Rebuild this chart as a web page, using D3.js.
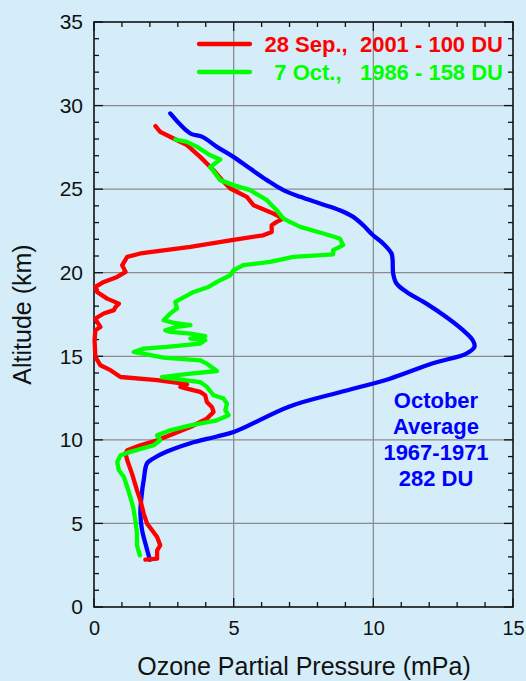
<!DOCTYPE html>
<html>
<head>
<meta charset="utf-8">
<script src="https://cdn.jsdelivr.net/npm/d3@7"></script>
<style>
  body { margin: 0; background: #d4edf9; }
  svg { display: block; font-family: "Liberation Sans", Arial, sans-serif; }
</style>
</head>
<body>
<div id="container"></div>
<script>
const w = 526;
const h = 681;
const margin = {top: 22, right: 13, bottom: 74, left: 94};

// ozone profiles: [partial pressure mPa, altitude km]
const octAverage = [
  [2.0, 2.83], [1.84, 3.8], [1.72, 4.6], [1.66, 5.6], [1.70, 6.6], [1.78, 7.6],
  [1.9, 8.6], [2.14, 8.9], [2.61, 9.3], [3.45, 9.8], [4.4, 10.2], [5.05, 10.5],
  [7.0, 12.0], [8.8, 12.85], [10.59, 13.66], [12.13, 14.58], [13.33, 15.16],
  [13.62, 15.56], [13.56, 15.96], [13.21, 16.56], [12.61, 17.35], [11.9, 18.15],
  [11.19, 18.85], [10.83, 19.35], [10.71, 19.95], [10.69, 20.75], [10.65, 21.15],
  [10.35, 21.75], [9.99, 22.24], [9.64, 22.84], [9.28, 23.34], [8.8, 23.74],
  [8.09, 24.14], [7.38, 24.54], [6.78, 24.94], [6.19, 25.54], [5.59, 26.23],
  [4.99, 26.93], [4.4, 27.53], [3.88, 28.13], [3.45, 28.33], [2.73, 29.53]
];

const sep2001 = [
  [1.84, 2.83], [2.26, 2.89], [2.26, 3.39], [2.37, 3.69], [2.26, 4.19], [2.08, 4.59],
  [1.9, 4.99], [1.78, 5.59], [1.66, 6.39], [1.54, 6.98], [1.36, 7.98], [1.19, 8.78],
  [1.13, 9.18], [1.19, 9.38], [1.66, 9.68], [2.26, 9.98], [2.85, 10.37], [3.45, 10.77],
  [4.04, 11.27], [4.28, 11.67], [4.22, 11.97], [4.04, 12.27], [3.98, 12.67], [3.8, 12.87],
  [3.33, 13.07], [3.09, 13.17], [3.33, 13.33], [2.26, 13.57], [0.95, 13.76], [0.59, 14.17],
  [0.23, 14.46], [0.05, 14.96], [0.02, 15.96], [0.05, 16.56], [0.23, 16.76], [0.11, 17.06],
  [0.05, 17.26], [0.35, 17.56], [0.71, 17.76], [0.77, 17.95], [0.89, 18.15], [0.47, 18.45],
  [0.11, 18.85], [0.05, 19.15], [0.35, 19.45], [0.83, 19.75], [1.13, 20.05], [1.01, 20.45],
  [1.19, 20.95], [1.66, 21.15], [3.45, 21.54], [4.88, 21.94], [6.06, 22.24], [6.36, 22.44],
  [6.36, 22.84], [6.54, 23.04], [6.78, 23.24], [6.42, 23.54], [5.71, 24.04], [5.47, 24.54],
  [4.88, 25.04], [4.64, 25.44], [4.28, 26.13], [3.8, 26.93], [3.33, 27.63], [2.85, 28.03],
  [2.37, 28.43], [2.2, 28.77]
];

const oct1986 = [
  [1.64, 3.09], [1.54, 3.69], [1.54, 4.39], [1.48, 5.19], [1.4, 5.98], [1.3, 6.58],
  [1.19, 7.18], [1.07, 7.78], [0.89, 8.18], [0.83, 8.68], [0.95, 9.08], [1.3, 9.28],
  [2.14, 9.68], [2.37, 9.98], [2.26, 10.27], [2.73, 10.57], [3.45, 10.87], [4.4, 11.17],
  [4.82, 11.47], [4.7, 11.77], [4.76, 12.17], [4.64, 12.47], [4.28, 12.67], [4.04, 13.17],
  [3.8, 13.46], [2.43, 13.76], [3.45, 13.96], [4.4, 14.12], [4.04, 14.56], [3.8, 14.76],
  [2.49, 14.92], [1.42, 15.26], [1.78, 15.46], [2.61, 15.56], [3.8, 15.76], [3.98, 15.96],
  [3.45, 16.06], [3.98, 16.2], [3.45, 16.36], [2.73, 16.46], [2.55, 16.56], [2.97, 16.76],
  [3.45, 16.86], [2.85, 17.0], [2.49, 17.16], [2.73, 17.56], [2.97, 17.86], [2.91, 18.25],
  [3.57, 18.85], [4.1, 19.15], [4.4, 19.45], [4.88, 19.85], [4.99, 20.15], [5.35, 20.45],
  [6.3, 20.65], [7.14, 20.95], [8.56, 21.1], [8.56, 21.35], [8.92, 21.65], [8.8, 22.05],
  [8.21, 22.35], [7.38, 22.74], [6.78, 23.24], [6.54, 23.74], [6.19, 24.34], [5.59, 24.94],
  [4.99, 25.24], [4.52, 25.54], [4.16, 26.33], [4.52, 26.77], [4.16, 27.03], [3.69, 27.53],
  [3.33, 27.83], [2.91, 27.97]
];

const xTicks = [0, 5, 10, 15];
const yTicks = [0, 5, 10, 15, 20, 25, 30, 35];
const legendLabels = ["28 Sep.,  2001 - 100 DU", "7 Oct.,   1986 - 158 DU"];
const noteLines = ["October", "Average", "1967-1971", "282 DU"];

const svg = d3.select("#container").append("svg")
              .attr("width", w).attr("height", h);

const pw = w - margin.left - margin.right;
const ph = h - margin.top - margin.bottom;
const g = svg.append("g").attr("transform", "translate(" + margin.left + "," + margin.top + ")");

const scaleX = d3.scaleLinear().domain([0, 15]).range([0, pw]);
const scaleY = d3.scaleLinear().domain([0, 35]).range([ph, 0]);

// grid
g.selectAll(".gx").data([5, 10]).enter().append("line")
  .attr("x1", d => scaleX(d)).attr("x2", d => scaleX(d))
  .attr("y1", 0).attr("y2", ph)
  .attr("stroke", "#8c8c8c").attr("stroke-width", 1.3);
g.selectAll(".gy").data([5, 10, 15, 20, 25, 30]).enter().append("line")
  .attr("y1", d => scaleY(d)).attr("y2", d => scaleY(d))
  .attr("x1", 0).attr("x2", pw)
  .attr("stroke", "#8c8c8c").attr("stroke-width", 1.3);

// minor ticks on all four sides, pointing inward
const minorX = d3.range(0, 16);
const minorY = d3.range(0, 36);
function drawTicks(cls, data, maker) {
  g.selectAll("." + cls).data(data).enter().append("line")
    .attr("class", cls).each(maker)
    .attr("stroke", "#111").attr("stroke-width", 1.3);
}
drawTicks("tb", minorX, function(d) {
  const len = d % 5 === 0 ? 9 : 5;
  d3.select(this).attr("x1", scaleX(d)).attr("x2", scaleX(d)).attr("y1", ph).attr("y2", ph - len);
});
drawTicks("tt", minorX, function(d) {
  const len = d % 5 === 0 ? 9 : 5;
  d3.select(this).attr("x1", scaleX(d)).attr("x2", scaleX(d)).attr("y1", 0).attr("y2", len);
});
drawTicks("tl", minorY, function(d) {
  const len = d % 5 === 0 ? 9 : 5;
  d3.select(this).attr("y1", scaleY(d)).attr("y2", scaleY(d)).attr("x1", 0).attr("x2", len);
});
drawTicks("tr", minorY, function(d) {
  const len = d % 5 === 0 ? 9 : 5;
  d3.select(this).attr("y1", scaleY(d)).attr("y2", scaleY(d)).attr("x1", pw).attr("x2", pw - len);
});

// frame
g.append("rect").attr("width", pw).attr("height", ph)
  .attr("fill", "none").attr("stroke", "#111").attr("stroke-width", 1.6);

// tick labels
const xAxis = d3.axisBottom(scaleX).tickValues(xTicks).tickSize(0).tickPadding(14);
g.append("g").attr("transform", "translate(0," + ph + ")").call(xAxis)
  .call(s => s.select(".domain").remove())
  .selectAll("text").attr("font-size", 20).attr("fill", "#111")
  .attr("font-family", "Liberation Sans, Arial, sans-serif");
const yAxis = d3.axisLeft(scaleY).tickValues(yTicks).tickSize(0).tickPadding(11);
g.append("g").call(yAxis)
  .call(s => s.select(".domain").remove())
  .selectAll("text").attr("font-size", 21).attr("fill", "#111")
  .attr("font-family", "Liberation Sans, Arial, sans-serif");

// axis titles
svg.append("text").attr("x", 304).attr("y", 675)
  .attr("text-anchor", "middle").attr("font-size", 25).attr("fill", "#111")
  .text("Ozone Partial Pressure (mPa)");
svg.append("text").attr("transform", "translate(31," + (margin.top + ph / 2) + ") rotate(-90)")
  .attr("text-anchor", "middle").attr("font-size", 25).attr("fill", "#111")
  .text("Altitude (km)");

// profiles
const line = d3.line().x(d => scaleX(d[0])).y(d => scaleY(d[1]));
const smooth = d3.line().x(d => scaleX(d[0])).y(d => scaleY(d[1])).curve(d3.curveCatmullRom);
const series = [
  {data: octAverage, color: "#0000ff", gen: smooth},
  {data: sep2001, color: "#ff0000", gen: line},
  {data: oct1986, color: "#00ff00", gen: line}
];
g.selectAll(".profile").data(series).enter().append("path")
  .attr("class", "profile")
  .attr("d", d => d.gen(d.data))
  .attr("fill", "none").attr("stroke", d => d.color)
  .attr("stroke-width", 4.3).attr("stroke-linejoin", "round").attr("stroke-linecap", "round");

// legend
const legendColors = ["#ff0000", "#00ff00"];
const lg = svg.append("g");
legendLabels.forEach((lab, i) => {
  const y = 44 + i * 28;
  lg.append("line").attr("x1", 199).attr("x2", 250).attr("y1", y).attr("y2", y)
    .attr("stroke", legendColors[i]).attr("stroke-width", 4.3).attr("stroke-linecap", "round");
  lg.append("text").attr("x", 503).attr("y", y + 8).attr("text-anchor", "end")
    .attr("font-size", 22).attr("font-weight", "bold").attr("fill", legendColors[i])
    .attr("xml:space", "preserve").style("white-space", "pre")
    .text(lab);
});

// annotation
svg.append("g").selectAll("text").data(noteLines).enter().append("text")
  .attr("x", 436).attr("y", (d, i) => 408 + i * 26)
  .attr("text-anchor", "middle").attr("font-size", 22).attr("font-weight", "bold")
  .attr("fill", "#0000ff").text(d => d);
</script>
</body>
</html>
